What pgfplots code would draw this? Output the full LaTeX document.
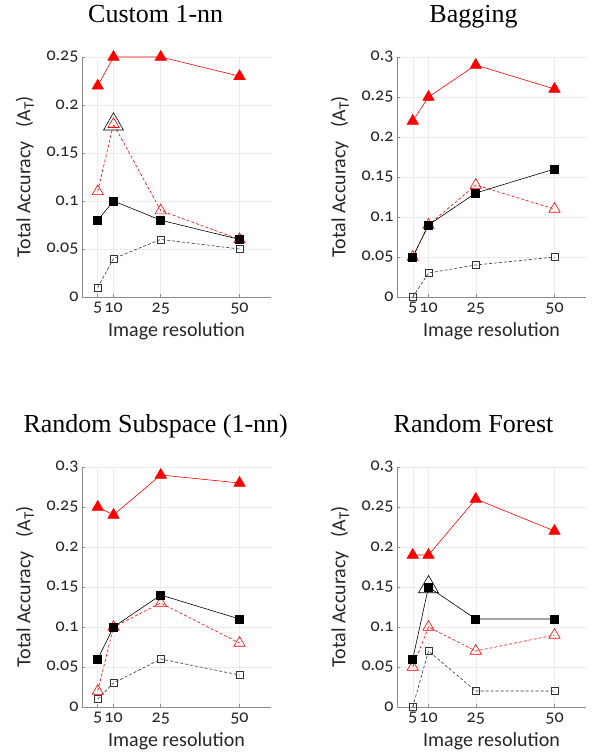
\documentclass[border=0pt]{standalone}
\usepackage{fontspec}
\setmainfont{Carlito}[Numbers=OldStyle]
\newfontfamily\tickfont{Carlito}[Numbers=OldStyle]
\newfontfamily\titlefont{Liberation Serif}
\usepackage{pgfplots}
\pgfplotsset{compat=1.18}
\pgfplotsset{
  panel/.style={
    scale only axis, width=189pt, height=240pt, anchor=south west,
    xmin=0, xmax=60, ymin=0, clip=false,
    axis lines*=left,
    xtick={5,10,25,50}, xticklabels={5,10,25,50},
    grid=major, grid style={draw=black!8, line width=0.5pt},
    axis line style={draw=black!45, line width=0.6pt},
    tick style={draw=black!45, line width=0.5pt}, tick align=inside, major tick length=3pt,
    tick label style={font=\tickfont\fontsize{18}{18}\selectfont, text=black!85},
    xticklabel style={yshift=-2pt},
    xlabel={Image resolution},
    ylabel={Total Accuracy\ \ \ (A\raisebox{-0.4ex}{\fontsize{15}{15}\selectfont T})},
    label style={font=\tickfont\fontsize{20}{20}\selectfont, text=black!85},
    xlabel style={at={(axis description cs:0.5,-0.142)}, anchor=center},
    ylabel style={at={(axis description cs:-0.302,0.5)}, anchor=center},
    title style={anchor=base, yshift=29pt, font=\titlefont\fontsize{26}{26}\selectfont},
  },
  rf/.style={red, line width=0.6pt, mark=triangle*, mark size=6.5pt, mark options={solid, fill=red}},
  ro/.style={red, line width=0.6pt, dash pattern=on 3pt off 2pt, mark=triangle, mark size=6.5pt, mark options={solid}},
  bf/.style={black, line width=0.6pt, mark=square*, mark size=4pt, mark options={solid, fill=black}},
  bo/.style={black!80, line width=0.6pt, dash pattern=on 3pt off 2pt, mark=square, mark size=3.6pt, mark options={solid}},
  big/.style={black, line width=0.6pt, only marks, mark=triangle, mark size=11.5pt},
}
\begin{document}
\begin{tikzpicture}[x=1pt,y=1pt]
\useasboundingbox (0,0) rectangle (593,-752);
% Custom 1-nn
\begin{axis}[panel, at={(82pt,-297pt)}, ymax=0.25,
  ytick={0,0.05,0.1,0.15,0.2,0.25}, yticklabels={0,0.05,0.1,0.15,0.2,0.25},
  title={Custom 1-nn}, title style={at={(axis description cs:0.39,1)}}]
\addplot[rf] coordinates {(5,0.22) (10,0.25) (25,0.25) (50,0.23)};
\addplot[ro] coordinates {(5,0.11) (10,0.18) (25,0.09) (50,0.06)};
\addplot[bf] coordinates {(5,0.08) (10,0.10) (25,0.08) (50,0.06)};
\addplot[bo] coordinates {(5,0.01) (10,0.04) (25,0.06) (50,0.05)};
\addplot[big] coordinates {(10,0.18)};
\end{axis}
% Bagging
\begin{axis}[panel, at={(397pt,-297pt)}, ymax=0.3,
  ytick={0,0.05,0.1,0.15,0.2,0.25,0.3}, yticklabels={0,0.05,0.1,0.15,0.2,0.25,0.3},
  title={Bagging}, title style={at={(axis description cs:0.405,1)}}]
\addplot[rf] coordinates {(5,0.22) (10,0.25) (25,0.29) (50,0.26)};
\addplot[ro] coordinates {(5,0.05) (10,0.09) (25,0.14) (50,0.11)};
\addplot[bf] coordinates {(5,0.05) (10,0.09) (25,0.13) (50,0.16)};
\addplot[bo] coordinates {(5,0.0) (10,0.03) (25,0.04) (50,0.05)};
\end{axis}
% Random Subspace
\begin{axis}[panel, at={(82pt,-707pt)}, ymax=0.3,
  ytick={0,0.05,0.1,0.15,0.2,0.25,0.3}, yticklabels={0,0.05,0.1,0.15,0.2,0.25,0.3},
  title={Random Subspace (1-nn)}, title style={at={(axis description cs:0.39,1)}}]
\addplot[rf] coordinates {(5,0.25) (10,0.24) (25,0.29) (50,0.28)};
\addplot[ro] coordinates {(5,0.02) (10,0.10) (25,0.13) (50,0.08)};
\addplot[bf] coordinates {(5,0.06) (10,0.10) (25,0.14) (50,0.11)};
\addplot[bo] coordinates {(5,0.01) (10,0.03) (25,0.06) (50,0.04)};
\end{axis}
% Random Forest
\begin{axis}[panel, at={(397pt,-707pt)}, ymax=0.3,
  ytick={0,0.05,0.1,0.15,0.2,0.25,0.3}, yticklabels={0,0.05,0.1,0.15,0.2,0.25,0.3},
  title={Random Forest}, title style={at={(axis description cs:0.405,1)}}]
\addplot[rf] coordinates {(5,0.19) (10,0.19) (25,0.26) (50,0.22)};
\addplot[ro] coordinates {(5,0.05) (10,0.10) (25,0.07) (50,0.09)};
\addplot[bf] coordinates {(5,0.06) (10,0.15) (25,0.11) (50,0.11)};
\addplot[bo] coordinates {(5,0.0) (10,0.07) (25,0.02) (50,0.02)};
\addplot[big] coordinates {(10,0.15)};
\end{axis}
\end{tikzpicture}
\end{document}
